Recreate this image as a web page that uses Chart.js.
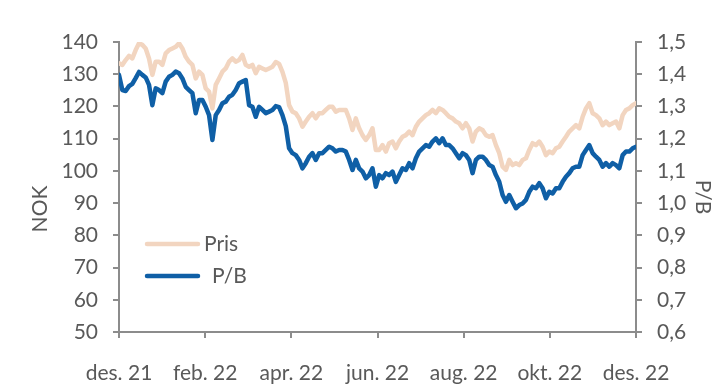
<!DOCTYPE html>
<html>
<head>
<meta charset="utf-8">
<script src="https://cdn.jsdelivr.net/npm/chart.js@4"></script>
<style>
  body { margin: 0; background: #fff; }
  #wrap { width: 721px; height: 391px; position: relative; }
</style>
</head>
<body>
<div id="wrap"><canvas id="pbChart"></canvas></div>
<script>
// tick labels for the date axis (every second month)
const tickLabels = ['des. 21', 'feb. 22', 'apr. 22', 'jun. 22', 'aug. 22', 'okt. 22', 'des. 22'];

// share price, NOK (left axis)
const pris = [
  133.4, 132.9, 134.4, 135.7, 134.9, 137.5, 139.6, 139.1, 138.0, 134.9, 129.8, 133.9, 133.9,
  132.9, 136.5, 137.5, 138.0, 138.5, 139.6, 138.0, 135.4, 133.9, 132.9, 128.7, 130.8, 129.8,
  125.6, 124.6, 119.4, 126.7, 128.7, 130.8, 131.8, 133.9, 134.9, 133.9, 134.4, 136.0, 132.9,
  132.3, 132.9, 130.3, 132.3, 131.8, 131.3, 131.8, 132.3, 133.8, 133.2, 130.7, 127.3, 120.4,
  118.4, 117.9, 116.3, 113.7, 115.3, 116.8, 117.9, 116.3, 117.9, 117.9, 118.9, 119.9, 119.9,
  118.4, 118.9, 118.9, 118.9, 116.3, 112.7, 116.3, 113.2, 111.1, 109.6, 111.1, 113.2, 106.5,
  106.5, 108.0, 106.0, 108.6, 109.1, 107.0, 109.1, 110.6, 111.1, 112.2, 111.1, 113.7, 115.3,
  116.3, 117.3, 117.9, 118.9, 117.9, 119.4, 118.9, 117.9, 116.8, 116.3, 115.3, 114.8, 113.2,
  114.8, 113.2, 109.1, 112.2, 113.2, 112.7, 111.1, 110.6, 111.1, 108.0, 105.5, 101.3, 100.3,
  103.4, 101.8, 102.4, 101.8, 103.4, 103.9, 106.5, 108.6, 108.0, 109.1, 107.5, 104.9, 106.0,
  105.5, 107.0, 107.5, 109.1, 110.6, 112.2, 113.2, 114.2, 113.2, 116.8, 119.4, 121.0, 117.9,
  117.3, 116.3, 114.2, 115.3, 114.2, 114.8, 115.3, 113.2, 117.3, 118.9, 119.4, 120.4, 121.0
];

// price / book (right axis)
const pb = [
  1.398, 1.351, 1.348, 1.363, 1.370, 1.388, 1.407, 1.398, 1.390, 1.367, 1.304, 1.356, 1.351,
  1.341, 1.377, 1.392, 1.398, 1.408, 1.403, 1.387, 1.361, 1.351, 1.341, 1.279, 1.320, 1.320,
  1.299, 1.273, 1.196, 1.273, 1.289, 1.310, 1.315, 1.330, 1.336, 1.351, 1.372, 1.377, 1.382,
  1.304, 1.299, 1.268, 1.299, 1.289, 1.279, 1.284, 1.289, 1.301, 1.298, 1.273, 1.239, 1.170,
  1.155, 1.149, 1.134, 1.108, 1.124, 1.144, 1.155, 1.134, 1.155, 1.155, 1.165, 1.175, 1.170,
  1.160, 1.165, 1.165, 1.160, 1.134, 1.103, 1.134, 1.108, 1.098, 1.077, 1.087, 1.108, 1.051,
  1.087, 1.077, 1.093, 1.087, 1.098, 1.066, 1.087, 1.108, 1.103, 1.124, 1.108, 1.139, 1.160,
  1.170, 1.180, 1.175, 1.191, 1.201, 1.186, 1.201, 1.180, 1.180, 1.170, 1.155, 1.139, 1.155,
  1.149, 1.134, 1.093, 1.134, 1.144, 1.144, 1.134, 1.118, 1.113, 1.087, 1.066, 1.025, 1.004,
  1.025, 1.004, 0.984, 0.994, 0.999, 1.010, 1.035, 1.051, 1.046, 1.062, 1.046, 1.015, 1.035,
  1.030, 1.046, 1.046, 1.066, 1.082, 1.093, 1.108, 1.113, 1.113, 1.149, 1.165, 1.180, 1.155,
  1.144, 1.134, 1.113, 1.124, 1.113, 1.124, 1.118, 1.108, 1.149, 1.160, 1.160, 1.170, 1.175
];

const TEXT = '#595959';
const AXIS = '#8c8c8c';
const BEIGE = '#f2d5c0';
const BLUE = '#0f5fa6';

// spread the points evenly over the 12 months on the x axis
const span = (tickLabels.length - 1) * 2;
const toPoints = arr => arr.map((v, i) => ({ x: i * span / (arr.length - 1), y: v }));

Chart.defaults.font.family = 'Lato';
Chart.defaults.font.size = 21;
Chart.defaults.color = TEXT;

// axis titles and legend drawn inside the plot like the original
const extras = {
  id: 'extras',
  afterDraw(chart) {
    const ctx = chart.ctx;
    ctx.save();
    ctx.fillStyle = TEXT;
    ctx.font = '21px Lato';
    ctx.textAlign = 'center';
    ctx.textBaseline = 'middle';

    ctx.save();
    ctx.translate(40, 209);
    ctx.rotate(-Math.PI / 2);
    ctx.fillText('NOK', 0, 0);
    ctx.restore();

    ctx.save();
    ctx.translate(703, 197);
    ctx.rotate(Math.PI / 2);
    ctx.fillText('P/B', 0, 0);
    ctx.restore();

    // legend
    const rows = [{ y: 244, tx: 204 }, { y: 276, tx: 212 }];
    chart.data.datasets.forEach((ds, i) => {
      const r = rows[i];
      ctx.strokeStyle = ds.borderColor;
      ctx.lineWidth = 4.5;
      ctx.lineCap = 'round';
      ctx.beginPath();
      ctx.moveTo(147, r.y);
      ctx.lineTo(198, r.y);
      ctx.stroke();
      ctx.textAlign = 'left';
      ctx.fillText(ds.label, r.tx, r.y);
    });
    ctx.restore();
  }
};

const axisGrid = { drawOnChartArea: false, drawTicks: true, tickLength: 6, color: AXIS, lineWidth: 2 };
const axisBorder = { color: AXIS, width: 2 };

new Chart(document.getElementById('pbChart'), {
  type: 'line',
  data: {
    datasets: [
      { label: 'Pris', data: toPoints(pris), yAxisID: 'y', borderColor: BEIGE, borderWidth: 4.5,
        pointRadius: 0, tension: 0, borderJoinStyle: 'round', borderCapStyle: 'round' },
      { label: 'P/B', data: toPoints(pb), yAxisID: 'y1', borderColor: BLUE, borderWidth: 4.5,
        pointRadius: 0, tension: 0, borderJoinStyle: 'round', borderCapStyle: 'round' }
    ]
  },
  options: {
    responsive: true,
    maintainAspectRatio: false,
    animation: false,
    layout: { padding: { top: 42, left: 0, right: 0, bottom: 0 } },
    plugins: { legend: { display: false }, tooltip: { enabled: false } },
    scales: {
      x: {
        type: 'linear', position: 'bottom', min: 0, max: span,
        ticks: { stepSize: 2, autoSkip: false, maxRotation: 0, padding: 23,
          callback: v => tickLabels[v / 2] },
        grid: axisGrid, border: axisBorder,
        afterFit: s => { s.height = 59; }
      },
      y: {
        position: 'left', min: 50, max: 140,
        ticks: { stepSize: 10, padding: 15 },
        grid: axisGrid, border: axisBorder,
        afterFit: s => { s.width = 119; }
      },
      y1: {
        position: 'right', min: 0.6, max: 1.5,
        ticks: { stepSize: 0.1, padding: 15, callback: v => v.toFixed(1).replace('.', ',') },
        grid: axisGrid, border: axisBorder,
        afterFit: s => { s.width = 85; }
      }
    }
  },
  plugins: [extras]
});
</script>
</body>
</html>
